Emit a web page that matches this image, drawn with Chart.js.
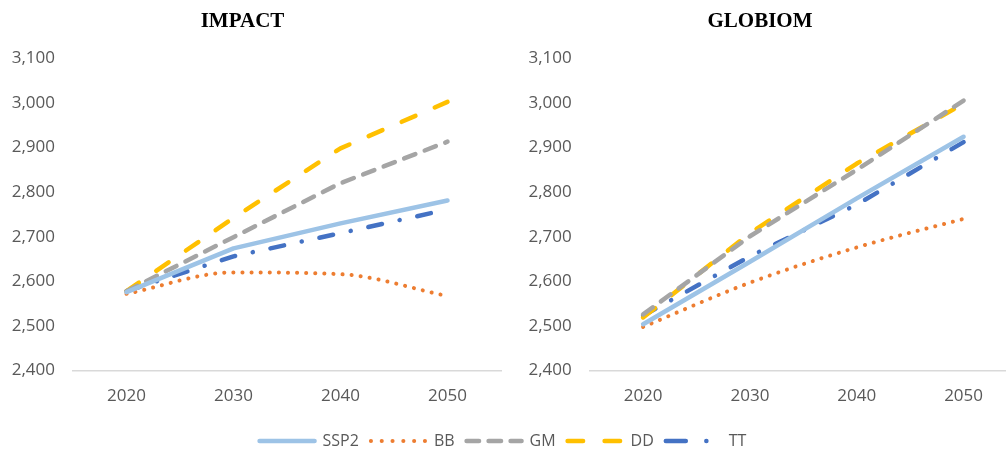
<!DOCTYPE html>
<html lang="en">

<head>
  <meta charset="UTF-8">
  <title>IMPACT / GLOBIOM</title>
  <script src="https://cdn.jsdelivr.net/npm/chart.js"></script>
  <style>
    html, body { margin: 0; padding: 0; background: #fff; overflow: hidden; }
    body { width: 1006px; height: 450px; position: relative; }
    canvas { position: absolute; }
    #left { left: -16px; top: 0; }
    #right { left: 503px; top: 0; }
    #leg { left: 0; top: 421px; }
  </style>
</head>

<body>
  <canvas id="left" width="519" height="421"></canvas>
  <canvas id="right" width="514" height="421"></canvas>
  <canvas id="leg" width="1006" height="29"></canvas>
</body>

</html>
<script>

  // categories and series
  const years = ['2020', '2030', '2040', '2050'];
  const seriesNames = ['SSP2', 'BB', 'GM', 'DD', 'TT'];
  const yMin = 2400;
  const yMax = 3100;
  const yStep = 100;

  const impactSSP2 = [2576, 2674, 2730, 2781];
  const impactBB = [2572, 2620, 2616, 2567];
  const impactGM = [2578, 2699, 2820, 2913];
  const impactDD = [2578, 2742, 2898, 3002];
  const impactTT = [2578, 2656, 2708, 2761];

  const globiomSSP2 = [2504, 2644, 2786, 2924];
  const globiomBB = [2498, 2597, 2676, 2740];
  const globiomGM = [2526, 2701, 2850, 3005];
  const globiomDD = [2519, 2708, 2864, 2998];
  const globiomTT = [2523, 2656, 2772, 2912];

  // line styles (BB is the only smoothed series)
  const colors = ['#9DC3E6', '#ED7D31', '#A5A5A5', '#FFC000', '#4472C4'];
  const widths = [4.5, 4, 4.5, 4.5, 4.5];
  const smooth = ['default', 'monotone', 'default', 'default', 'default'];
  const dashes = [[], [0.1, 9], [12, 10], [15, 21], [14, 18, 0.1, 18]];
  const legendDashes = [[], [0.1, 10.7], [12.5, 9.5], [15.5, 21.5], [20, 20.5, 0.1, 14.5]];

  const tickFont = { family: 'Open Sans', size: 17 };
  const grey = '#595959';

  function makeDatasets(seriesList) {
    return seriesList.map(function (vals, i) {
      return {
        label: seriesNames[i],
        data: vals,
        borderColor: colors[i],
        backgroundColor: colors[i],
        borderWidth: widths[i],
        borderDash: dashes[i],
        borderCapStyle: 'round',
        borderJoinStyle: 'round',
        pointRadius: 0,
        tension: 0,
        cubicInterpolationMode: smooth[i],
        fill: false
      };
    });
  }

  function panelOptions(title, axisWidth, rightPad) {
    return {
      responsive: false,
      animation: false,
      layout: { padding: { top: 0, right: rightPad, bottom: 0, left: 0 } },
      plugins: {
        legend: { display: false },
        tooltip: { enabled: false },
        title: {
          display: true,
          text: title,
          color: '#000000',
          font: { family: 'Liberation Serif', size: 21, weight: 'bold' },
          padding: { top: 9, bottom: 24 }
        }
      },
      scales: {
        x: {
          offset: true,
          grid: { display: false, drawTicks: false, offset: true },
          border: { display: true, color: '#D9D9D9', width: 1.5 },
          ticks: { color: grey, font: tickFont, padding: 15 }
        },
        y: {
          min: yMin,
          max: yMax,
          grid: { display: false, drawTicks: false },
          border: { display: false },
          ticks: {
            stepSize: yStep,
            color: grey,
            font: tickFont,
            padding: 18,
            callback: function (v) { return v.toLocaleString('en-US'); }
          },
          afterFit: function (s) { s.width = axisWidth; }
        }
      }
    };
  }

  new Chart(document.getElementById('left'), {
    type: 'line',
    data: { labels: years, datasets: makeDatasets([impactSSP2, impactBB, impactGM, impactDD, impactTT]) },
    options: panelOptions('IMPACT', 89, 2)
  });

  new Chart(document.getElementById('right'), {
    type: 'line',
    data: { labels: years, datasets: makeDatasets([globiomSSP2, globiomBB, globiomGM, globiomDD, globiomTT]) },
    options: panelOptions('GLOBIOM', 86.7, 0)
  });

  // shared legend along the bottom
  new Chart(document.getElementById('leg'), {
    type: 'line',
    data: {
      labels: years,
      datasets: seriesNames.map(function (name, i) {
        return {
          label: name,
          data: [],
          borderColor: colors[i],
          backgroundColor: colors[i],
          borderWidth: widths[i]
        };
      })
    },
    options: {
      responsive: false,
      animation: false,
      events: [],
      layout: { padding: 0 },
      scales: { x: { display: false }, y: { display: false } },
      plugins: {
        tooltip: { enabled: false },
        legend: {
          position: 'top',
          maxHeight: 29,
          labels: {
            usePointStyle: true,
            pointStyle: 'line',
            pointStyleWidth: 55,
            color: grey,
            font: { family: 'Open Sans', size: 16 },
            padding: 12,
            generateLabels: function (chart) {
              const items = Chart.defaults.plugins.legend.labels.generateLabels(chart);
              items.forEach(function (it, i) {
                it.lineDash = legendDashes[i];
                it.lineDashOffset = 0;
                it.lineCap = 'round';
                it.lineWidth = widths[i];
                it.strokeStyle = colors[i];
              });
              return items;
            }
          }
        }
      }
    }
  });

</script>
